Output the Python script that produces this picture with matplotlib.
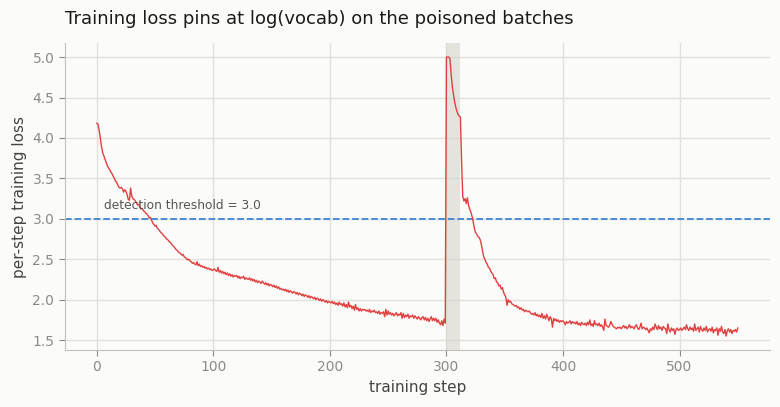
import numpy as np
import matplotlib.pyplot as plt

# per-step training loss, steps 0..550
loss = [
    4.18, 4.17, 4.10, 4.00, 3.90, 3.82, 3.78, 3.74, 3.70, 3.66,
    3.63, 3.61, 3.58, 3.56, 3.53, 3.50, 3.47, 3.45, 3.42, 3.39,
    3.38, 3.39, 3.37, 3.33, 3.36, 3.34, 3.30, 3.24, 3.23, 3.38,
    3.28, 3.25, 3.24, 3.22, 3.20, 3.17, 3.18, 3.14, 3.12, 3.13,
    3.10, 3.09, 3.07, 3.06, 3.04, 3.01, 3.02, 2.98, 2.95, 2.93,
    2.91, 2.92, 2.88, 2.87, 2.85, 2.83, 2.82, 2.80, 2.78, 2.77,
    2.75, 2.74, 2.72, 2.71, 2.69, 2.67, 2.66, 2.64, 2.62, 2.61,
    2.59, 2.58, 2.57, 2.55, 2.56, 2.53, 2.52, 2.51, 2.49, 2.50,
    2.48, 2.47, 2.45, 2.46, 2.44, 2.43, 2.47, 2.42, 2.44, 2.41,
    2.42, 2.40, 2.41, 2.39, 2.40, 2.38, 2.39, 2.37, 2.38, 2.36,
    2.37, 2.38, 2.36, 2.35, 2.40, 2.34, 2.36, 2.33, 2.35, 2.32,
    2.34, 2.31, 2.33, 2.30, 2.32, 2.29, 2.31, 2.28, 2.30, 2.29,
    2.30, 2.27, 2.29, 2.26, 2.28, 2.27, 2.29, 2.25, 2.27, 2.26,
    2.25, 2.27, 2.24, 2.26, 2.23, 2.25, 2.22, 2.24, 2.21, 2.23,
    2.22, 2.20, 2.23, 2.21, 2.19, 2.21, 2.18, 2.20, 2.17, 2.19,
    2.18, 2.16, 2.18, 2.15, 2.17, 2.14, 2.16, 2.13, 2.14, 2.12,
    2.13, 2.11, 2.13, 2.10, 2.12, 2.09, 2.11, 2.10, 2.08, 2.10,
    2.09, 2.07, 2.09, 2.06, 2.08, 2.07, 2.05, 2.07, 2.04, 2.06,
    2.05, 2.03, 2.05, 2.02, 2.04, 2.03, 2.01, 2.03, 2.00, 2.02,
    2.01, 1.99, 2.01, 1.98, 2.00, 1.99, 1.97, 1.99, 1.96, 1.98,
    1.97, 1.96, 1.98, 1.95, 1.97, 1.94, 1.96, 1.93, 1.97, 1.94,
    1.95, 1.92, 1.96, 1.91, 1.94, 1.90, 1.97, 1.91, 1.93, 1.89,
    1.92, 1.87, 1.94, 1.88, 1.90, 1.86, 1.89, 1.86, 1.88, 1.87,
    1.88, 1.86, 1.87, 1.85, 1.88, 1.84, 1.86, 1.85, 1.87, 1.84,
    1.85, 1.83, 1.86, 1.82, 1.84, 1.83, 1.85, 1.79, 1.88, 1.81,
    1.86, 1.82, 1.84, 1.81, 1.83, 1.80, 1.82, 1.84, 1.80, 1.82,
    1.81, 1.84, 1.77, 1.83, 1.78, 1.81, 1.79, 1.82, 1.77, 1.80,
    1.79, 1.81, 1.77, 1.80, 1.78, 1.76, 1.79, 1.77, 1.75, 1.78,
    1.79, 1.75, 1.78, 1.74, 1.77, 1.73, 1.76, 1.79, 1.74, 1.77,
    1.74, 1.77, 1.72, 1.75, 1.71, 1.69, 1.74, 1.68, 1.76, 1.71,
    5.00, 5.00, 5.00, 4.98, 4.80, 4.64, 4.54, 4.45, 4.38, 4.33,
    4.29, 4.27, 4.26, 3.70, 3.28, 3.22, 3.25, 3.19, 3.26, 3.16,
    3.12, 3.08, 3.03, 2.96, 2.88, 2.83, 2.81, 2.78, 2.77, 2.74,
    2.68, 2.60, 2.53, 2.50, 2.46, 2.44, 2.40, 2.39, 2.35, 2.33,
    2.31, 2.26, 2.27, 2.22, 2.21, 2.17, 2.18, 2.13, 2.15, 2.09,
    2.06, 2.03, 1.93, 2.00, 1.97, 1.98, 1.95, 1.94, 1.93, 1.92,
    1.93, 1.90, 1.91, 1.88, 1.90, 1.87, 1.88, 1.85, 1.87, 1.86,
    1.85, 1.86, 1.84, 1.82, 1.83, 1.81, 1.84, 1.80, 1.82, 1.79,
    1.81, 1.78, 1.83, 1.77, 1.80, 1.76, 1.82, 1.78, 1.74, 1.79,
    1.76, 1.66, 1.77, 1.74, 1.76, 1.73, 1.75, 1.72, 1.74, 1.73,
    1.74, 1.72, 1.69, 1.73, 1.71, 1.72, 1.74, 1.70, 1.73, 1.71,
    1.72, 1.70, 1.73, 1.69, 1.71, 1.68, 1.72, 1.70, 1.69, 1.71,
    1.68, 1.72, 1.69, 1.75, 1.68, 1.70, 1.67, 1.74, 1.69, 1.70,
    1.68, 1.71, 1.67, 1.69, 1.66, 1.62, 1.76, 1.68, 1.67, 1.66,
    1.68, 1.73, 1.70, 1.67, 1.66, 1.65, 1.64, 1.66, 1.65, 1.66,
    1.64, 1.66, 1.68, 1.65, 1.67, 1.64, 1.66, 1.69, 1.65, 1.67,
    1.66, 1.64, 1.67, 1.69, 1.65, 1.63, 1.66, 1.71, 1.64, 1.66,
    1.65, 1.63, 1.65, 1.62, 1.59, 1.64, 1.62, 1.66, 1.63, 1.70,
    1.66, 1.63, 1.68, 1.64, 1.66, 1.62, 1.67, 1.65, 1.64, 1.58,
    1.70, 1.63, 1.60, 1.65, 1.62, 1.64, 1.57, 1.63, 1.65, 1.62,
    1.63, 1.65, 1.62, 1.64, 1.66, 1.63, 1.69, 1.64, 1.62, 1.66,
    1.63, 1.65, 1.61, 1.70, 1.62, 1.64, 1.66, 1.60, 1.67, 1.63,
    1.61, 1.65, 1.62, 1.67, 1.60, 1.63, 1.64, 1.61, 1.66, 1.59,
    1.63, 1.62, 1.65, 1.56, 1.64, 1.61, 1.67, 1.60, 1.58, 1.63,
    1.55, 1.62, 1.64, 1.60, 1.63, 1.58, 1.62, 1.61, 1.63, 1.60,
    1.65,
]
steps = np.arange(len(loss))

poison_start = 300
poison_end = 312
threshold = 3.0

bg = '#fbfbf9'
fig, ax = plt.subplots(figsize=(7.8, 4.07), dpi=100)
fig.patch.set_facecolor(bg)
ax.set_facecolor(bg)
fig.subplots_adjust(left=0.083, right=0.987, top=0.894, bottom=0.14)

# shaded poisoned window
ax.axvspan(poison_start, poison_end, color='#d6d3cc', alpha=0.6, lw=0, zorder=1)

ax.plot(steps, loss, color='#e0403f', lw=1.0, zorder=3)
ax.axhline(threshold, color='#3d85d6', lw=1.3, ls='--', zorder=2)
ax.text(6, threshold + 0.08, 'detection threshold = 3.0', fontsize=8.8,
        color='#555555', va='bottom', ha='left')

ax.grid(True, color='#e2e0da', lw=1.0)
ax.set_axisbelow(True)
for s in ['top', 'right']:
    ax.spines[s].set_visible(False)
for s in ['left', 'bottom']:
    ax.spines[s].set_color('#c2c0b8')
ax.tick_params(colors='#8a8a8a', labelsize=10, length=4)

ax.set_xlabel('training step', fontsize=11, color='#444444')
ax.set_ylabel('per-step training loss', fontsize=11, color='#444444')
ax.set_title('Training loss pins at log(vocab) on the poisoned batches',
             fontsize=13, loc='left', color='#1a1a1a', pad=14)

plt.savefig('out.png', facecolor=bg)
